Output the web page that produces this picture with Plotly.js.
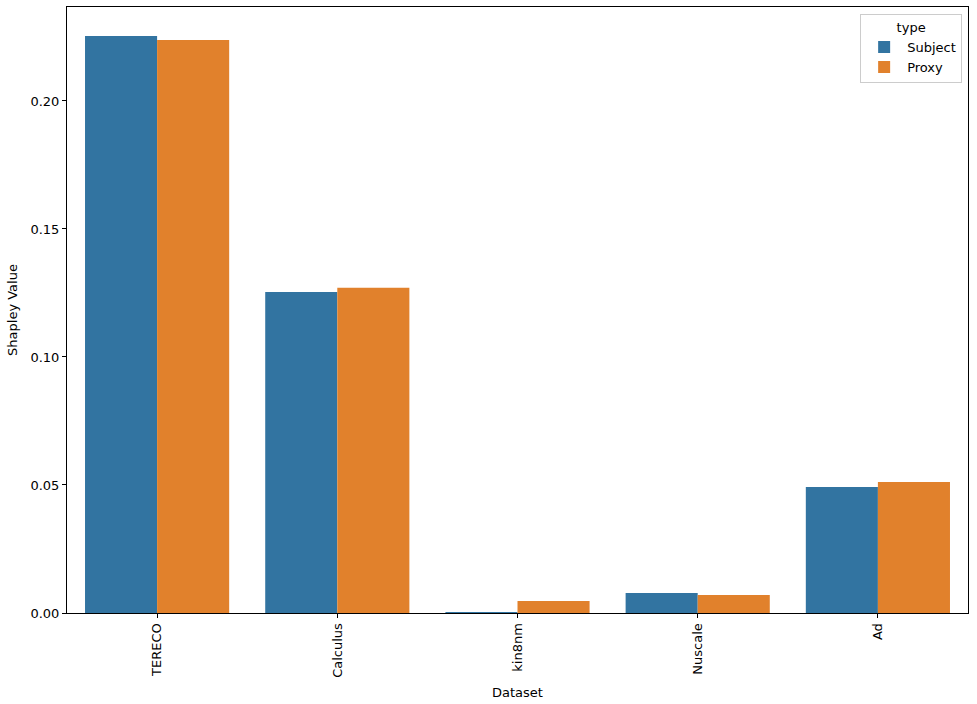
<!DOCTYPE html>
<html>
<head>
<meta charset="utf-8">
<script src="https://cdn.plot.ly/plotly-3.0.1.min.js"></script>
<style>
  html, body { margin: 0; padding: 0; background: #fff; }
  #chart { width: 977px; height: 704px; }
</style>
</head>
<body>
<div id="chart"></div>
<script>
// Data
var datasets = ["TERECO", "Calculus", "kin8nm", "Nuscale", "Ad"];
var subjectVals = [0.2254, 0.1254, 0.0003, 0.0078, 0.0492];
var proxyVals = [0.2238, 0.1270, 0.0047, 0.0070, 0.0512];
var yTicks = [0, 0.05, 0.10, 0.15, 0.20];

var subject_trace = {
    x: datasets,
    y: subjectVals,
    type: 'bar',
    name: 'Subject',
    marker: { color: '#3274a1', line: { width: 0 } }
};
var proxy_trace = {
    x: datasets,
    y: proxyVals,
    type: 'bar',
    name: 'Proxy',
    marker: { color: '#e1812c', line: { width: 0 } }
};

var axisFont = { family: 'DejaVu Sans', size: 13, color: '#000' };

var layout = {
    width: 977,
    height: 704,
    margin: { l: 67, r: 9, t: 7, b: 91 },
    paper_bgcolor: '#fff',
    plot_bgcolor: '#fff',
    font: axisFont,
    barmode: 'group',
    bargap: 0.2,
    bargroupgap: 0,
    showlegend: true,
    legend: {
        x: 0.9935,
        y: 0.988,
        xanchor: 'right',
        yanchor: 'top',
        bgcolor: 'rgba(255,255,255,0.8)',
        bordercolor: '#cccccc',
        borderwidth: 1,
        font: axisFont,
        itemwidth: 36,
        title: { text: 'type', side: 'top center', font: axisFont },
        tracegroupgap: 0
    },
    xaxis: {
        title: { text: 'Dataset', font: axisFont, standoff: 11 },
        range: [-0.5, 4.5],
        tickangle: -90,
        ticks: 'outside',
        ticklen: 4,
        tickcolor: '#000',
        showline: true,
        linecolor: '#000',
        linewidth: 1,
        mirror: true,
        showgrid: false,
        zeroline: false,
        tickfont: axisFont
    },
    yaxis: {
        title: { text: 'Shapley Value', font: axisFont, standoff: 9 },
        range: [0, 0.2367],
        tickvals: yTicks,
        tickformat: '.2f',
        ticks: 'outside',
        ticklen: 4,
        tickcolor: '#000',
        showline: true,
        linecolor: '#000',
        linewidth: 1,
        mirror: true,
        showgrid: false,
        zeroline: false,
        tickfont: axisFont
    }
};

Plotly.newPlot('chart', [subject_trace, proxy_trace], layout, { displayModeBar: false });
</script>
</body>
</html>
